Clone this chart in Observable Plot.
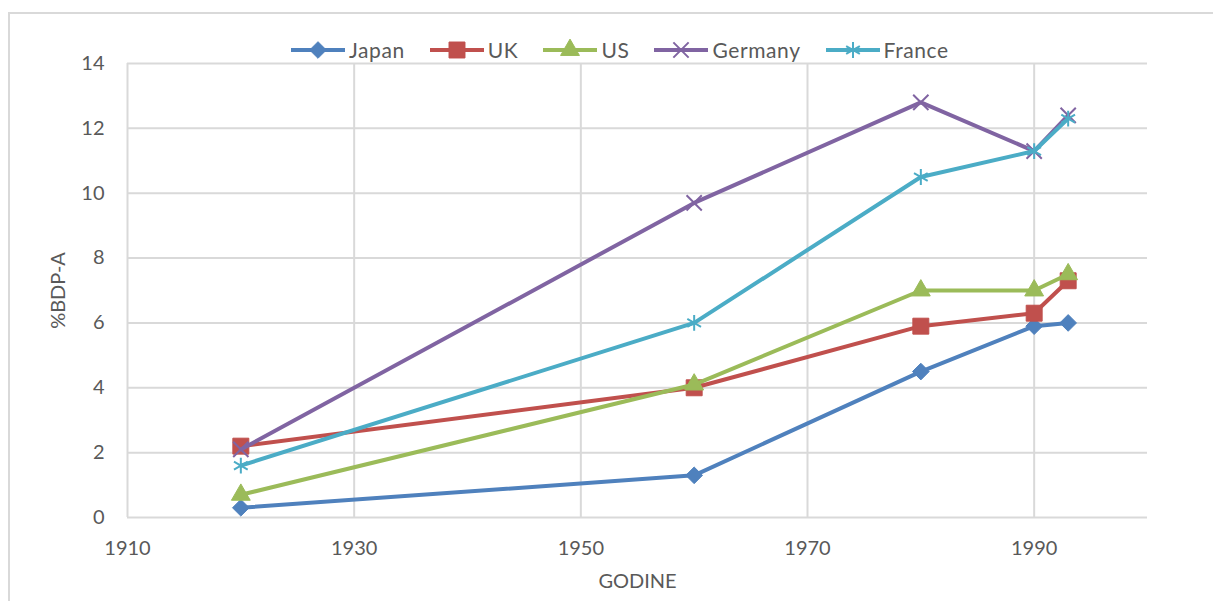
<!DOCTYPE html>
<html><head><meta charset="utf-8">
<script src="https://cdn.jsdelivr.net/npm/d3@7"></script>
<script src="https://cdn.jsdelivr.net/npm/@observablehq/plot@0.6"></script>
<style>
body{margin:0;background:#fff;font-family:Lato,sans-serif;}
#wrap{position:relative;width:1213px;height:601px;overflow:hidden;}
#frame{position:absolute;left:8px;top:12px;right:-10px;bottom:-10px;border-left:2px solid #d9d9d9;border-top:2px solid #d9d9d9;}
#chart{position:absolute;left:0;top:0;}
#legend{position:absolute;top:37px;left:291px;display:flex;gap:25px;align-items:center;font-size:21px;letter-spacing:0.6px;color:#595959;font-family:Lato,sans-serif;}
.item{display:flex;align-items:center;gap:4px;}
</style></head>
<body><div id="wrap"><div id="frame"></div><div id="chart"></div><div id="legend"></div></div>
<script>
const years = [1920, 1960, 1980, 1990, 1993];
const japan = [0.3, 1.3, 4.5, 5.9, 6.0];
const uk = [2.2, 4.0, 5.9, 6.3, 7.3];
const us = [0.7, 4.1, 7.0, 7.0, 7.5];
const germany = [2.1, 9.7, 12.8, 11.3, 12.4];
const france = [1.6, 6.0, 10.5, 11.3, 12.3];
const xTicks = [1910, 1930, 1950, 1970, 1990];
const yTicks = [0, 2, 4, 6, 8, 10, 12, 14];

const series = [
  {name: "Japan", values: japan, color: "#4F81BD", symbol: "diamond2", d3sym: d3.symbolDiamond2, filled: true, r: 7.5},
  {name: "UK", values: uk, color: "#C0504D", symbol: "square", d3sym: d3.symbolSquare, filled: true, r: 9},
  {name: "US", values: us, color: "#9BBB59", symbol: "triangle", d3sym: d3.symbolTriangle, filled: true, r: 7},
  {name: "Germany", values: germany, color: "#8064A2", symbol: "times", d3sym: d3.symbolTimes, filled: false, r: 7},
  {name: "France", values: france, color: "#4BACC6", symbol: "asterisk", d3sym: d3.symbolAsterisk, filled: false, r: 7.5}
];

const marks = [
  Plot.ruleY(yTicks, {stroke: "#d9d9d9", strokeWidth: 2}),
  Plot.ruleX(xTicks, {stroke: "#d9d9d9", strokeWidth: 2}),
  Plot.axisY({ticks: yTicks, tickSize: 0, tickPadding: 23, fontSize: 20, label: "%BDP-A", labelAnchor: "center", labelArrow: "none", labelOffset: 77}),
  Plot.axisX({ticks: xTicks, tickSize: 0, tickPadding: 23, fontSize: 20, tickFormat: d => String(d), label: "GODINE", labelAnchor: "center", labelArrow: "none", labelOffset: 70})
];
for (const s of series) {
  const rows = years.map((y, i) => ({year: y, value: s.values[i]}));
  marks.push(Plot.line(rows, {x: "year", y: "value", stroke: s.color, strokeWidth: 4, strokeLinejoin: "round"}));
  marks.push(Plot.dot(rows, s.filled
    ? {x: "year", y: "value", symbol: () => s.symbol, r: s.r, fill: s.color, stroke: s.color, strokeWidth: 1}
    : {x: "year", y: "value", symbol: () => s.symbol, r: s.r, fill: "none", stroke: s.color, strokeWidth: 2}));
}

const chart = Plot.plot({
  width: 1213, height: 601,
  marginLeft: 127, marginRight: 66, marginTop: 63, marginBottom: 84,
  style: {fontFamily: "Lato, sans-serif", fontSize: "20px", color: "#595959", background: "transparent"},
  x: {domain: [1910, 2000]},
  y: {domain: [0, 14]},
  symbol: {type: "identity"},
  marks
});
document.getElementById("chart").append(chart);

const legend = document.getElementById("legend");
for (const s of series) {
  const item = document.createElement("div");
  item.className = "item";
  const size = Math.PI * s.r * s.r;
  const path = d3.symbol(s.d3sym, size)();
  item.innerHTML = `<svg width="54" height="22"><line x1="0" x2="54" y1="11" y2="11" stroke="${s.color}" stroke-width="4"/>` +
    `<path transform="translate(27,11)" d="${path}" fill="${s.filled ? s.color : "none"}" stroke="${s.color}" stroke-width="${s.filled ? 1 : 2}"/></svg>` +
    `<span>${s.name}</span>`;
  legend.append(item);
}
</script>
</body></html>
